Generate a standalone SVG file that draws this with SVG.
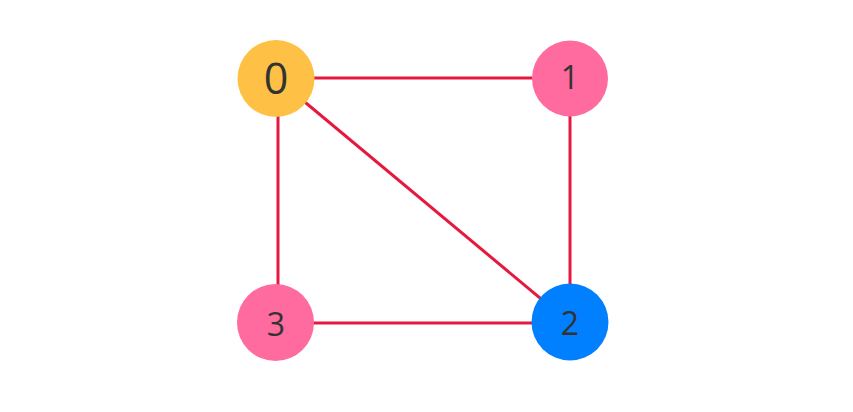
<svg xmlns="http://www.w3.org/2000/svg" width="853" height="412" viewBox="0 0 853 412">
<style>
.edge{stroke:#E5193F;stroke-width:3;fill:none}
.lbl{font-family:"Open Sans","Noto Sans",sans-serif;fill:#333;text-anchor:middle;dominant-baseline:central}
</style>
<rect width="853" height="412" fill="#fff"/>
<g id="edges">
<line class="edge" x1="276" y1="78" x2="570" y2="78"/>
<line class="edge" x1="570" y1="78" x2="570" y2="323"/>
<line class="edge" x1="276" y1="78" x2="570" y2="323"/>
<line class="edge" x1="278" y1="78" x2="278" y2="323"/>
<line class="edge" x1="276" y1="323" x2="570" y2="323"/>
</g>
<g id="node0"><circle cx="276" cy="78.5" r="38.5" fill="#FFC145"/><text class="lbl" x="276" y="77" font-size="43">0</text></g>
<g id="node1"><circle cx="570" cy="78.5" r="38" fill="#FF6B9E"/><text class="lbl" x="570" y="76" font-size="32">1</text></g>
<g id="node2"><circle cx="570" cy="322" r="38.5" fill="#0080FF"/><text class="lbl" x="570" y="322" font-size="32">2</text></g>
<g id="node3"><circle cx="275.5" cy="322.5" r="38.5" fill="#FF6B9E"/><text class="lbl" x="276" y="323" font-size="32">3</text></g>
</svg>
